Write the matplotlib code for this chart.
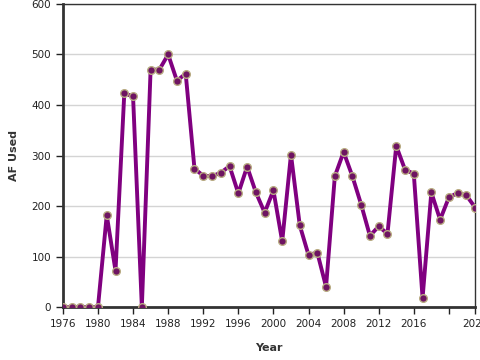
import matplotlib
matplotlib.use('Agg')
import matplotlib.pyplot as plt

years = list(range(1976, 2024))
af_used = [0, 0, 0, 0, 0, 182, 72, 423, 417, 0,
           470, 470, 500, 448, 462, 274, 260, 259, 266, 279,
           225, 278, 227, 187, 231, 130, 302, 162, 103, 108,
           40, 259, 307, 259, 203, 141, 160, 145, 319, 272,
           264, 18, 227, 173, 217, 226, 221, 197]

x_ticks = [1976, 1980, 1984, 1988, 1992, 1996, 2000, 2004, 2008, 2012, 2016, 2020, 2023]
x_tick_labels = ['1976', '1980', '1984', '1988', '1992', '1996', '2000', '2004', '2008', '2012', '2016', '', '2023']
y_ticks = [0, 100, 200, 300, 400, 500, 600]

fig = plt.figure(figsize=(4.8, 3.6), dpi=100)
ax = fig.add_axes([0.131, 0.147, 0.859, 0.842])

ax.plot(years, af_used, color='#800080', linewidth=2.8, zorder=3,
        marker='o', markersize=5.5, markerfacecolor='#6e1462',
        markeredgecolor='#b8ab82', markeredgewidth=1.0)

ax.set_xlim(1976, 2023)
ax.set_ylim(0, 600)
ax.set_xticks(x_ticks)
ax.set_xticklabels(x_tick_labels)
ax.set_yticks(y_ticks)
ax.tick_params(axis='both', labelsize=7.5, colors='#222222', length=5, width=1)
ax.grid(axis='y', color='#d4d4d4', linewidth=1)
ax.set_axisbelow(True)

for side in ['left', 'bottom']:
    ax.spines[side].set_linewidth(2)
    ax.spines[side].set_color('#333333')
for side in ['top', 'right']:
    ax.spines[side].set_linewidth(1)
    ax.spines[side].set_color('#333333')

ax.set_ylabel('AF Used', fontsize=8, fontweight='bold', color='#333333', labelpad=9)
ax.set_xlabel('Year', fontsize=8, fontweight='bold', color='#333333', labelpad=10)

fig.savefig('out.png', dpi=100)
